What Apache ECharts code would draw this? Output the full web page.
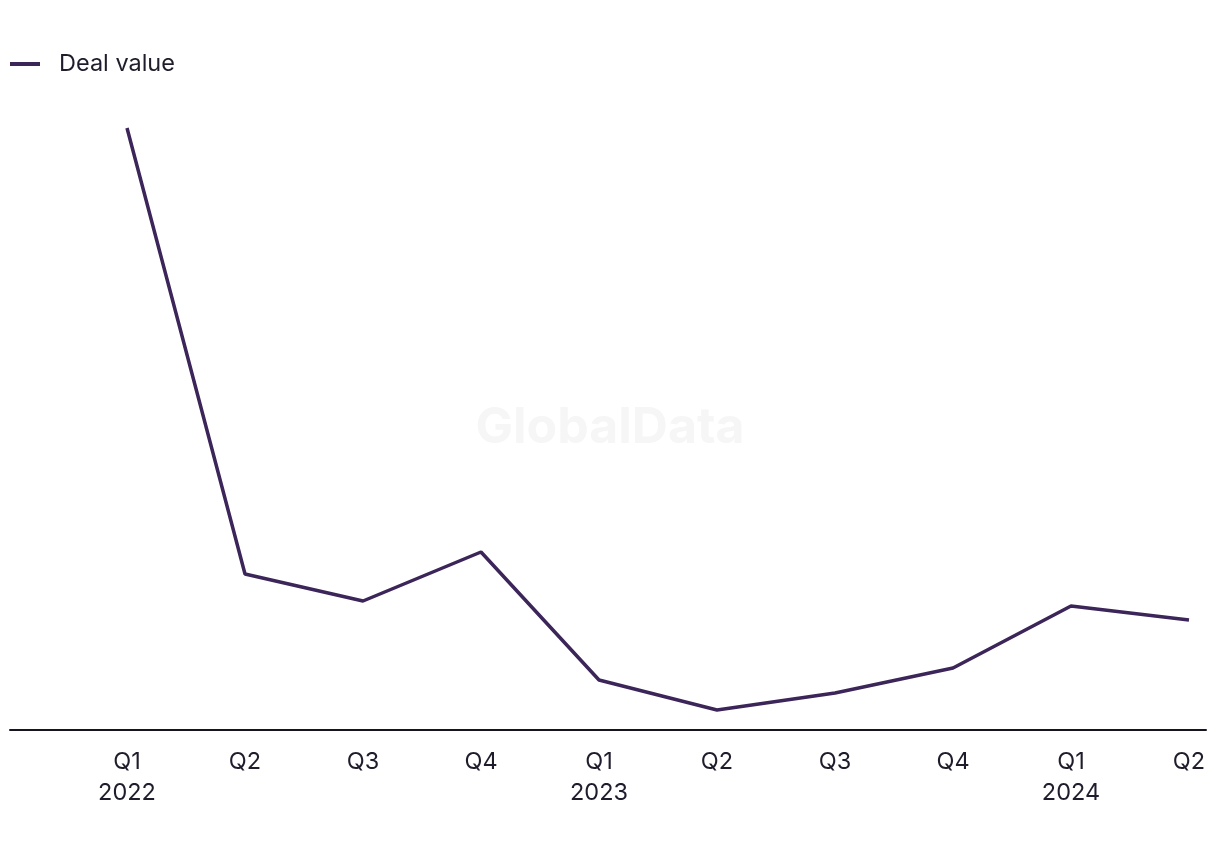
<!DOCTYPE html>
<html>
<head>
<meta charset="utf-8">
<script src="https://cdn.jsdelivr.net/npm/echarts@6/dist/echarts.min.js"></script>
<style>html,body{margin:0;padding:0;background:#fff}#c{width:1220px;height:850px}</style>
</head>
<body>
<div id="c"></div>
<script>
const categories = ['Q1\n2022','Q2','Q3','Q4','Q1\n2023','Q2','Q3','Q4','Q1\n2024','Q2'];
const dealValue = [60.2, 15.6, 12.9, 17.8, 5.0, 2.0, 3.7, 6.2, 12.4, 11.0];
const seriesName = 'Deal value';

const FONT = 'Inter, "Noto Sans", sans-serif';
const LINE = '#3b2559';
const chart = echarts.init(document.getElementById('c'), null, {renderer:'canvas'});
chart.setOption({
  backgroundColor: '#ffffff',
  animation: false,
  legend: {
    left: 5, top: 47,
    icon: 'rect', itemWidth: 30, itemHeight: 4,
    data: [seriesName],
    textStyle: {fontFamily: FONT, fontSize: 23.5, color: '#1f1d2b', padding: [0,0,0,14]}
  },
  graphic: [{
    type: 'text', left: 'center', top: 403, z: -1,
    style: {text: 'GlobalData', font: 'bold 50px Inter, sans-serif', fill: '#f6f6f6'}
  }],
  grid: [
    {left: 127, right: 31, top: 100, bottom: 120},
    {left: 10, right: 14, top: 100, bottom: 120}
  ],
  xAxis: [{
    type: 'category', gridIndex: 0, data: categories, boundaryGap: false,
    axisLine: {show: false}, axisTick: {show: false}, splitLine: {show: false},
    axisLabel: {fontFamily: FONT, fontSize: 23.5, color: '#1f1d2b', margin: 16, lineHeight: 31, interval: 0}
  }, {
    type: 'value', gridIndex: 1, min: 0, max: 1,
    axisLine: {show: true, lineStyle: {color: '#16141f', width: 2}},
    axisTick: {show: false}, axisLabel: {show: false}, splitLine: {show: false}
  }],
  yAxis: [{
    type: 'value', gridIndex: 0, min: 0, max: 63,
    axisLine: {show: false}, axisTick: {show: false}, axisLabel: {show: false}, splitLine: {show: false}
  }, {
    type: 'value', gridIndex: 1, min: 0, max: 1, show: false
  }],
  series: [{
    name: seriesName, type: 'line', xAxisIndex: 0, yAxisIndex: 0,
    data: dealValue, symbol: 'none',
    lineStyle: {color: LINE, width: 3.5}, itemStyle: {color: LINE}
  }]
});
</script>
</body>
</html>
